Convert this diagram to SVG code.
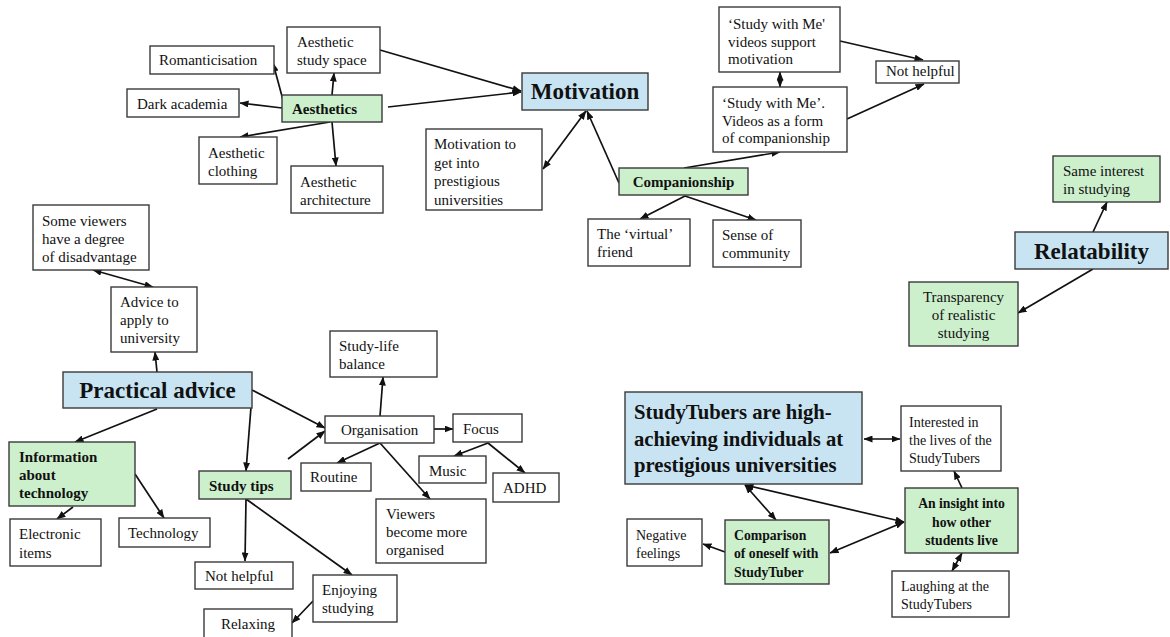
<svg xmlns="http://www.w3.org/2000/svg" width="1170" height="637" viewBox="0 0 1170 637">
<defs>
<style>
.n{fill:#fff;stroke:#3a3a3a;stroke-width:1.4}
.g{fill:#ccefcc;stroke:#3a3a3a;stroke-width:1.4}
.b{fill:#c8e4f3;stroke:#3a3a3a;stroke-width:1.4}
text{font-family:"Liberation Serif","Times New Roman",serif;fill:#111}
.t{font-size:15px}
.s{font-size:14px}
.tb{font-size:15px;font-weight:bold}
.sb{font-size:13.7px;font-weight:bold}
.h{font-size:23px;font-weight:bold}
.h2{font-size:20.7px;font-weight:bold}
.c line{stroke:#111;stroke-width:1.7;fill:none}
.e{marker-end:url(#a)}
.d{marker-end:url(#a);marker-start:url(#a)}
</style>
<marker id="a" markerWidth="9" markerHeight="7" refX="8.5" refY="3.5" orient="auto-start-reverse" markerUnits="userSpaceOnUse">
<path d="M0,0 L9,3.5 L0,7 z" fill="#111"/>
</marker>
</defs>
<rect width="1170" height="637" fill="#fff"/>

<g id="connectors" class="c">
<line class="e" x1="283" y1="100" x2="273" y2="63"/>
<line class="e" x1="332" y1="95" x2="334" y2="73"/>
<line class="e" x1="282" y1="108" x2="240" y2="103"/>
<line class="e" x1="330" y1="122" x2="240" y2="137"/>
<line class="e" x1="332" y1="122" x2="336" y2="166"/>
<line class="e" x1="380" y1="50" x2="521" y2="91"/>
<line class="e" x1="388" y1="107" x2="521" y2="92"/>
<line class="d" x1="586" y1="111" x2="543" y2="169"/>
<line class="e" x1="619" y1="183" x2="587" y2="111"/>
<line class="e" x1="684" y1="168" x2="780" y2="152"/>
<line class="e" x1="685" y1="196" x2="640" y2="219"/>
<line class="e" x1="685" y1="196" x2="756" y2="220"/>
<line class="e" x1="840" y1="41" x2="923" y2="60"/>
<line class="e" x1="847" y1="119" x2="924" y2="84"/>
<line class="d" x1="780" y1="72" x2="780" y2="87"/>
<line class="e" x1="1093" y1="232" x2="1107" y2="202"/>
<line class="e" x1="1093" y1="269" x2="1018" y2="313"/>
<line class="d" x1="93" y1="270" x2="153" y2="287"/>
<line class="e" x1="157" y1="372" x2="155" y2="352"/>
<line class="e" x1="157" y1="409" x2="75" y2="442"/>
<line class="e" x1="73" y1="507" x2="57" y2="519"/>
<line class="e" x1="135" y1="474" x2="164" y2="518"/>
<line class="e" x1="251" y1="407" x2="246" y2="471"/>
<line class="e" x1="252" y1="390" x2="325" y2="428"/>
<line class="e" x1="288" y1="459" x2="325" y2="431"/>
<line class="e" x1="246" y1="499" x2="245" y2="561"/>
<line class="e" x1="246" y1="499" x2="352" y2="575"/>
<line class="e" x1="313" y1="601" x2="292" y2="623"/>
<line class="e" x1="380" y1="416" x2="383" y2="377"/>
<line class="e" x1="434" y1="429" x2="453" y2="429"/>
<line class="e" x1="380" y1="443" x2="337" y2="463"/>
<line class="e" x1="380" y1="443" x2="430" y2="499"/>
<line class="e" x1="488" y1="443" x2="454" y2="456"/>
<line class="e" x1="488" y1="443" x2="525" y2="473"/>
<line class="d" x1="864" y1="439" x2="900" y2="439"/>
<line class="d" x1="745" y1="485" x2="776" y2="520"/>
<line class="d" x1="745" y1="485" x2="904" y2="522"/>
<line class="d" x1="904" y1="522" x2="830" y2="553"/>
<line class="e" x1="725" y1="552" x2="703" y2="544"/>
<line class="e" x1="962" y1="488" x2="954" y2="471"/>
<line class="d" x1="962" y1="553" x2="952" y2="571"/>
</g>

<g id="romanticisation"><rect class="n" x="150" y="46" width="124" height="28"/><text class="t" x="159" y="65">Romanticisation</text></g>
<g id="study-space"><rect class="n" x="287" y="27" width="93" height="46"/><text class="t" x="297" y="47">Aesthetic</text><text class="t" x="297" y="65">study space</text></g>
<g id="dark-academia"><rect class="n" x="127" y="89" width="112" height="28"/><text class="t" x="137" y="109">Dark academia</text></g>
<g id="aesthetics"><rect class="g" x="282" y="95" width="100" height="27"/><text class="tb" x="292" y="114">Aesthetics</text></g>
<g id="clothing"><rect class="n" x="199" y="137" width="78" height="47"/><text class="t" x="208" y="158">Aesthetic</text><text class="t" x="208" y="176">clothing</text></g>
<g id="architecture"><rect class="n" x="291" y="166" width="92" height="47"/><text class="t" x="300" y="187">Aesthetic</text><text class="t" x="300" y="205">architecture</text></g>

<g id="motivation"><rect class="b" x="522" y="73" width="126" height="37"/><text class="h" x="585" y="99" text-anchor="middle">Motivation</text></g>
<g id="motivation-prestigious"><rect class="n" x="426" y="129" width="116" height="81"/><text class="t" x="434" y="149">Motivation to</text><text class="t" x="434" y="167.5">get into</text><text class="t" x="434" y="186">prestigious</text><text class="t" x="434" y="204.5">universities</text></g>
<g id="companionship"><rect class="g" x="619" y="168" width="129" height="27"/><text class="tb" x="683.5" y="187" text-anchor="middle">Companionship</text></g>
<g id="swm-motivation"><rect class="n" x="719" y="7" width="121" height="65"/><text class="t" x="728" y="29">‘Study with Me'</text><text class="t" x="728" y="46.5">videos support</text><text class="t" x="728" y="64">motivation</text></g>
<g id="not-helpful-1"><rect class="n" x="876" y="61" width="83" height="22"/><text class="t" x="886" y="76">Not helpful</text></g>
<g id="swm-companionship"><rect class="n" x="713" y="87" width="134" height="65"/><text class="t" x="722" y="108">‘Study with Me’.</text><text class="t" x="722" y="125.5">Videos as a form</text><text class="t" x="722" y="143">of companionship</text></g>
<g id="virtual-friend"><rect class="n" x="588" y="219" width="102" height="47"/><text class="t" x="597" y="239">The ‘virtual’</text><text class="t" x="597" y="257">friend</text></g>
<g id="community"><rect class="n" x="713" y="220" width="88" height="47"/><text class="t" x="722" y="240">Sense of</text><text class="t" x="722" y="258">community</text></g>

<g id="same-interest"><rect class="g" x="1053" y="156" width="107" height="46"/><text class="t" x="1063" y="176">Same interest</text><text class="t" x="1063" y="194">in studying</text></g>
<g id="relatability"><rect class="b" x="1015" y="232" width="153" height="37"/><text class="h" x="1091.5" y="259" text-anchor="middle">Relatability</text></g>
<g id="transparency"><rect class="g" x="909" y="282" width="109" height="64"/><text class="t" x="963.5" y="302" text-anchor="middle">Transparency</text><text class="t" x="963.5" y="320" text-anchor="middle">of realistic</text><text class="t" x="963.5" y="338" text-anchor="middle">studying</text></g>

<g id="disadvantage"><rect class="n" x="33" y="205" width="116" height="65"/><text class="t" x="42" y="226">Some viewers</text><text class="t" x="42" y="244">have a degree</text><text class="t" x="42" y="262">of disadvantage</text></g>
<g id="advice-apply"><rect class="n" x="111" y="287" width="86" height="65"/><text class="t" x="120" y="307">Advice to</text><text class="t" x="120" y="325">apply to</text><text class="t" x="120" y="343">university</text></g>
<g id="practical-advice"><rect class="b" x="63" y="372" width="189" height="36"/><text class="h" x="157.5" y="398" text-anchor="middle">Practical advice</text></g>
<g id="info-tech"><rect class="g" x="9" y="442" width="126" height="64"/><text class="tb" x="19" y="462">Information</text><text class="tb" x="19" y="480">about</text><text class="tb" x="19" y="498">technology</text></g>
<g id="electronic"><rect class="n" x="10" y="519" width="91" height="47"/><text class="t" x="19" y="539">Electronic</text><text class="t" x="19" y="558">items</text></g>
<g id="technology"><rect class="n" x="119" y="518" width="91" height="29"/><text class="t" x="128" y="538">Technology</text></g>
<g id="study-tips"><rect class="g" x="199" y="471" width="92" height="28"/><text class="tb" x="209" y="491">Study tips</text></g>
<g id="not-helpful-2"><rect class="n" x="195" y="562" width="98" height="27"/><text class="t" x="205" y="581">Not helpful</text></g>
<g id="relaxing"><rect class="n" x="204" y="609" width="88" height="32"/><text class="t" x="248" y="629" text-anchor="middle">Relaxing</text></g>
<g id="enjoying"><rect class="n" x="313" y="575" width="84" height="47"/><text class="t" x="322" y="595">Enjoying</text><text class="t" x="322" y="613">studying</text></g>
<g id="study-life"><rect class="n" x="330" y="331" width="107" height="46"/><text class="t" x="339" y="351">Study-life</text><text class="t" x="339" y="369">balance</text></g>
<g id="organisation"><rect class="n" x="325" y="416" width="109" height="27"/><text class="t" x="341" y="435">Organisation</text></g>
<g id="focus"><rect class="n" x="453" y="414" width="69" height="28"/><text class="t" x="463" y="434">Focus</text></g>
<g id="routine"><rect class="n" x="301" y="463" width="70" height="28"/><text class="t" x="310" y="482">Routine</text></g>
<g id="music"><rect class="n" x="419" y="456" width="67" height="27"/><text class="t" x="429" y="476">Music</text></g>
<g id="adhd"><rect class="n" x="493" y="473" width="66" height="29"/><text class="t" x="503" y="493">ADHD</text></g>
<g id="organised"><rect class="n" x="376" y="499" width="110" height="64"/><text class="t" x="386" y="519">Viewers</text><text class="t" x="386" y="537">become more</text><text class="t" x="386" y="555">organised</text></g>

<g id="studytubers"><rect class="b" x="625" y="392" width="237" height="92"/><text class="h2" x="634" y="419">StudyTubers are high-</text><text class="h2" x="634" y="446">achieving individuals at</text><text class="h2" x="634" y="472">prestigious universities</text></g>
<g id="interested"><rect class="n" x="901" y="406" width="100" height="65"/><text class="s" x="909" y="427">Interested in</text><text class="s" x="909" y="445">the lives of the</text><text class="s" x="909" y="463">StudyTubers</text></g>
<g id="insight"><rect class="g" x="905" y="488" width="113" height="65"/><text class="sb" x="961.5" y="508" text-anchor="middle">An insight into</text><text class="sb" x="961.5" y="527" text-anchor="middle">how other</text><text class="sb" x="961.5" y="545" text-anchor="middle">students live</text></g>
<g id="comparison"><rect class="g" x="725" y="520" width="104" height="64"/><text class="sb" x="734" y="540">Comparison</text><text class="sb" x="734" y="558">of oneself with</text><text class="sb" x="734" y="577">StudyTuber</text></g>
<g id="negative"><rect class="n" x="627" y="519" width="75" height="47"/><text class="s" x="636" y="540">Negative</text><text class="s" x="636" y="558">feelings</text></g>
<g id="laughing"><rect class="n" x="892" y="571" width="117" height="46"/><text class="s" x="901" y="591">Laughing at the</text><text class="s" x="901" y="609">StudyTubers</text></g>
</svg>
